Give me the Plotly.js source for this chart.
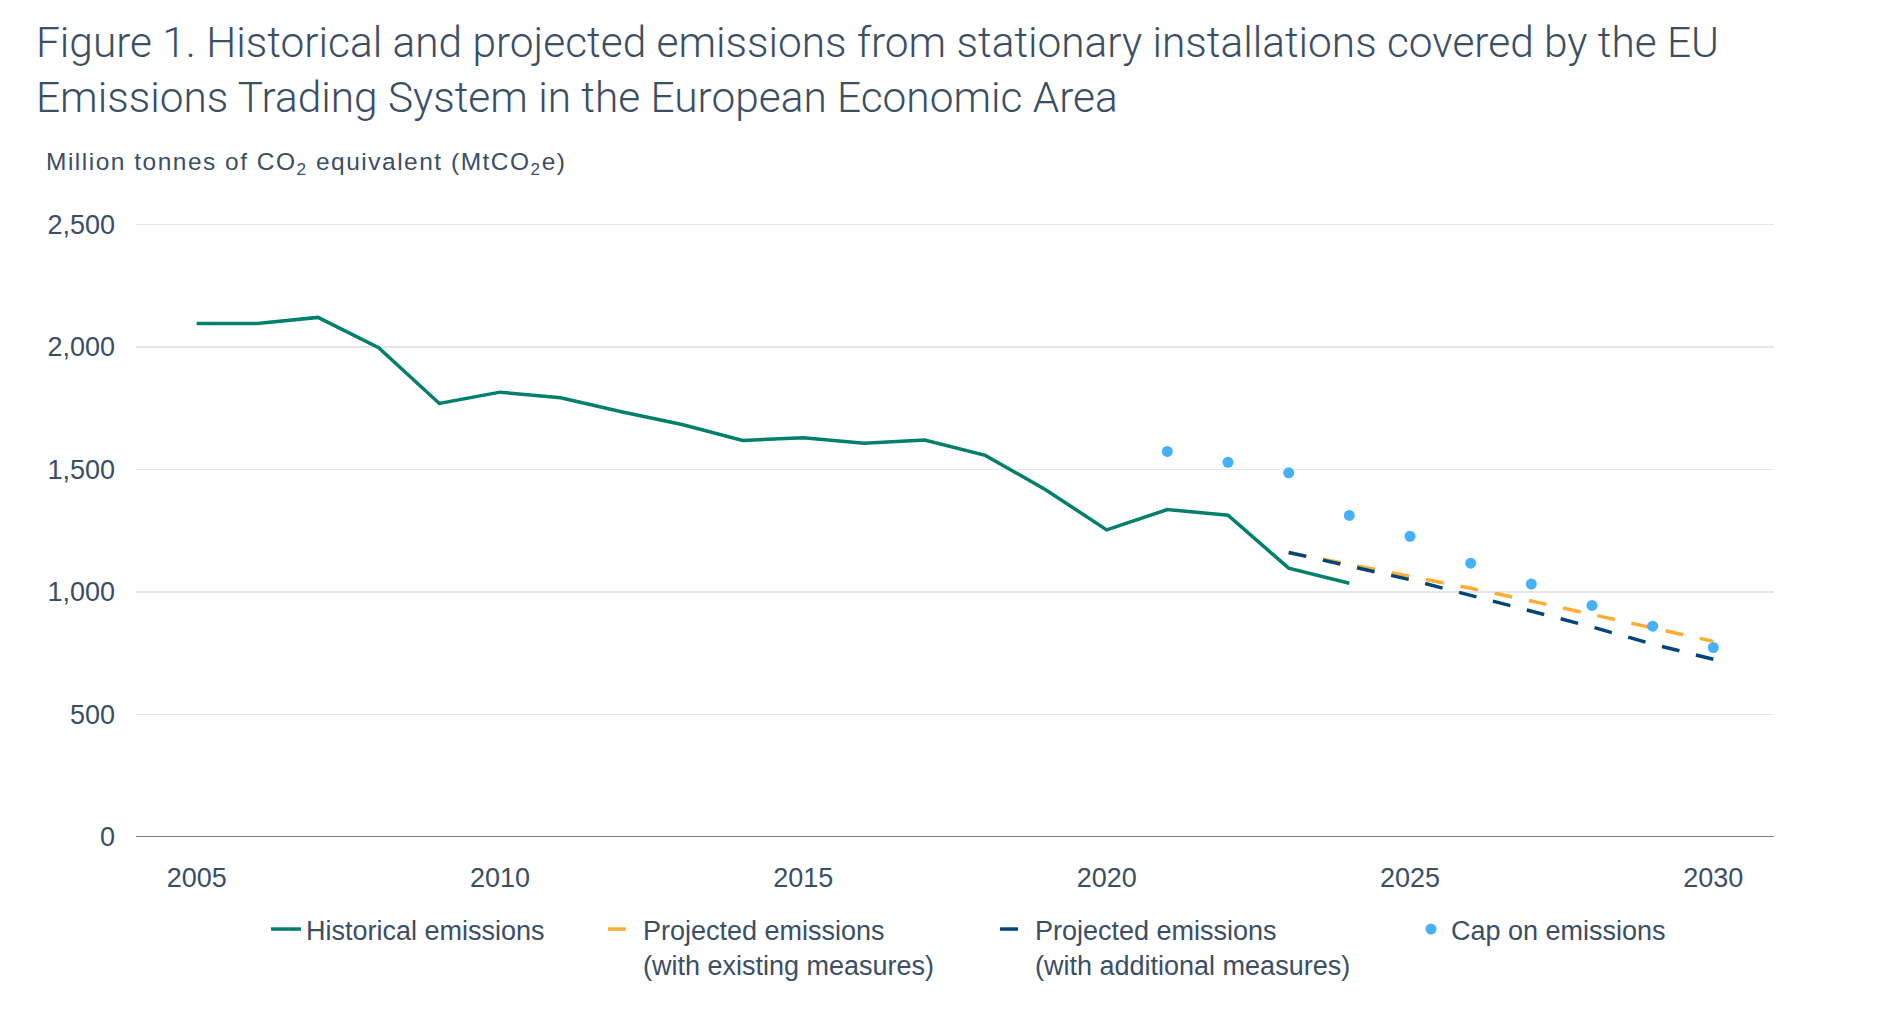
<!DOCTYPE html>
<html>
<head>
<meta charset="utf-8">
<script src="https://cdn.plot.ly/plotly-3.0.1.min.js"></script>
<style>
  html, body { margin: 0; padding: 0; background: #ffffff; }
  #chart { width: 1882px; height: 1034px; }
  .annotation-text { letter-spacing: 1.5px; }
</style>
</head>
<body>
<div id="chart"></div>
<script>
// ---- Data ----
const histYears = [2005, 2006, 2007, 2008, 2009, 2010, 2011, 2012, 2013, 2014,
                   2015, 2016, 2017, 2018, 2019, 2020, 2021, 2022, 2023, 2024];
const histValues = [2095, 2095, 2120, 1996, 1769, 1815, 1792, 1735, 1683, 1618,
                    1629, 1607, 1620, 1557, 1416, 1253, 1336, 1313, 1097, 1035];

const projYears = [2023, 2024, 2025, 2026, 2027, 2028, 2029, 2030];
const projExisting = [1161, 1113, 1066, 1015, 963, 908, 855, 798];
const projAdditional = [1161, 1107, 1050, 986, 921, 857, 787, 725];

const capYears = [2021, 2022, 2023, 2024, 2025, 2026, 2027, 2028, 2029, 2030];
const capValues = [1573, 1529, 1486, 1312, 1227, 1117, 1032, 945, 860, 773];

const xTickVals = [2005, 2010, 2015, 2020, 2025, 2030];
const yTickVals = [0, 500, 1000, 1500, 2000, 2500];
const yTickText = ['0', '500', '1,000', '1,500', '2,000', '2,500'];

const seriesNames = [
  'Historical emissions',
  'Projected emissions<br>(with existing measures)',
  'Projected emissions<br>(with additional measures)',
  'Cap on emissions'
];

const titleText = 'Figure 1. Historical and projected emissions from stationary installations covered by the EU<br>Emissions Trading System in the European Economic Area';
const yTitleText = 'Million tonnes of CO<sub>2</sub> equivalent (MtCO<sub>2</sub>e)';

// ---- Styling ----
const TXT = '#3b4e63';
const FONT = 'Liberation Sans, Arial, Helvetica, sans-serif';

const traces = [
  {
    x: histYears, y: histValues, type: 'scatter', mode: 'lines',
    name: seriesNames[0], legend: 'legend', showlegend: true,
    line: { color: '#00806b', width: 3.5 }
  },
  {
    x: projYears, y: projExisting, type: 'scatter', mode: 'lines',
    name: seriesNames[1], legend: 'legend2', showlegend: true,
    line: { color: '#ffad33', width: 3.5, dash: '18px,17px' }
  },
  {
    x: projYears, y: projAdditional, type: 'scatter', mode: 'lines',
    name: seriesNames[2], legend: 'legend3', showlegend: true,
    line: { color: '#00457a', width: 3.5, dash: '18px,17px' }
  },
  {
    x: capYears, y: capValues, type: 'scatter', mode: 'markers',
    name: seriesNames[3], legend: 'legend4', showlegend: true,
    marker: { color: '#46b1fb', size: 11 }
  }
];

const L = 136, R = 1774, T = 212, B = 837;
const W = R - L, H = B - T;
function px2x(p) { return (p - L) / W; }
function px2y(p) { return (B - p) / H; }

function legendAt(textStartPx) {
  return {
    orientation: 'h', x: px2x(textStartPx - 40), xanchor: 'left',
    y: px2y(905), yanchor: 'top', valign: 'top',
    bgcolor: 'rgba(0,0,0,0)', borderwidth: 0,
    font: { family: FONT, size: 27, color: TXT }
  };
}

const layout = {
  width: 1882, height: 1034,
  showlegend: true,
  paper_bgcolor: '#ffffff', plot_bgcolor: '#ffffff',
  margin: { l: L, r: 1882 - R, t: T, b: 1034 - B, pad: 0 },
  font: { family: FONT, size: 27, color: TXT },
  title: {
    text: titleText,
    font: { family: 'Roboto, sans-serif', weight: 300, size: 42.4, color: TXT },
    x: 36 / 1882, xanchor: 'left', xref: 'container',
    y: 1 - 57 / 1034, yanchor: 'top', yref: 'container'
  },
  xaxis: {
    range: [2004, 2031], tickvals: xTickVals, ticktext: xTickVals.map(String),
    showgrid: false, zeroline: false, showline: false, ticks: '',
    ticklabelstandoff: 22,
    tickfont: { family: FONT, size: 27, color: TXT }
  },
  yaxis: {
    range: [0, 2550], tickvals: yTickVals, ticktext: yTickText,
    showgrid: true, gridcolor: '#e6e6e6', gridwidth: 1.5,
    zeroline: false, showline: false, ticks: '',
    ticklabelstandoff: 20,
    tickfont: { family: FONT, size: 27, color: TXT }
  },
  shapes: [
    { type: 'line', xref: 'paper', yref: 'y', x0: 0, x1: 1, y0: 0, y1: 0,
      line: { color: '#808080', width: 2 }, layer: 'above' }
  ],
  annotations: [
    {
      text: yTitleText, xref: 'paper', yref: 'paper',
      x: px2x(44), xanchor: 'left', y: px2y(163), yanchor: 'middle',
      showarrow: false, font: { family: FONT, size: 24.5, color: TXT }
    }
  ],
  legend: legendAt(306),
  legend2: legendAt(643),
  legend3: legendAt(1035),
  legend4: legendAt(1451),
  hovermode: false
};

Plotly.newPlot('chart', traces, layout, { staticPlot: true, displayModeBar: false });
</script>
</body>
</html>
